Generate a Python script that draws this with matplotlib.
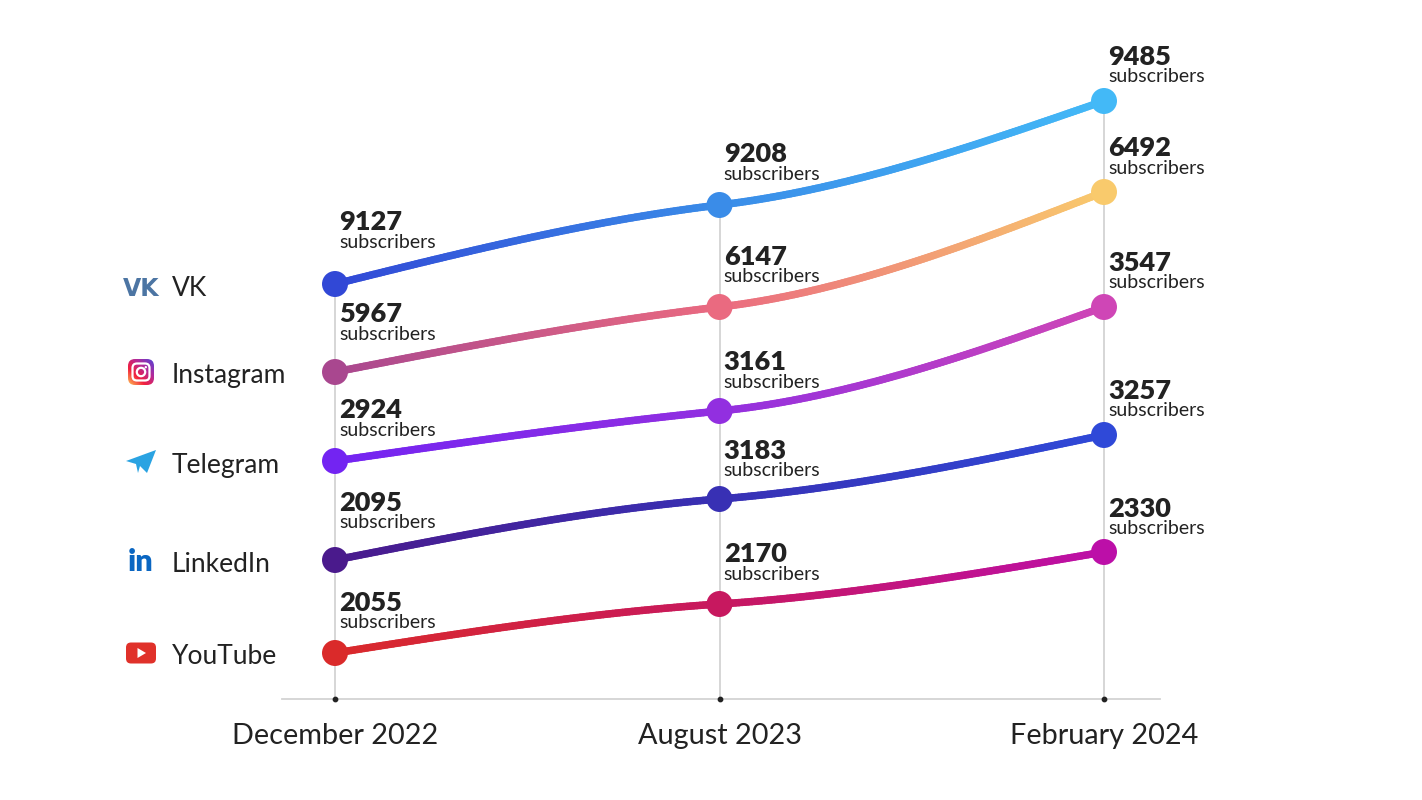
import matplotlib

matplotlib.use("Agg")

import matplotlib.pyplot as plt
import numpy as np
from matplotlib.collections import LineCollection
from matplotlib.colors import to_rgb, LinearSegmentedColormap
from matplotlib.patches import FancyBboxPatch, Circle, Polygon

plt.rcParams["font.family"] = ["Lato", "DejaVu Sans"]

# ---------------------------------------------------------------------------
# Data
# ---------------------------------------------------------------------------
periods = ["December 2022", "August 2023", "February 2024"]
networks = ["VK", "Instagram", "Telegram", "LinkedIn", "YouTube"]

vk_subs = [9127, 9208, 9485]
instagram_subs = [5967, 6147, 6492]
telegram_subs = [2924, 3161, 3547]
linkedin_subs = [2095, 3183, 3257]
youtube_subs = [2055, 2170, 2330]

# vertical placement of each series as drawn in the infographic (not to scale)
vk_level = [415, 494, 598]
instagram_level = [327, 392, 507]
telegram_level = [238, 288, 392]
linkedin_level = [139, 200, 264]
youtube_level = [46, 95, 147]

subs = [vk_subs, instagram_subs, telegram_subs, linkedin_subs, youtube_subs]
levels = [vk_level, instagram_level, telegram_level, linkedin_level, youtube_level]

# gradient colours at each period
colors = [
    ["#3148D6", "#3A8CE8", "#43B9F7"],
    ["#A9478F", "#EA6A80", "#F9CA6C"],
    ["#7324F2", "#922FE0", "#CF46B6"],
    ["#4A1A8C", "#3830B4", "#2F49D8"],
    ["#DA2A2A", "#C7185F", "#BC0FA8"],
]

# how far above each dot the "subscribers" line sits (px)
label_off = [
    [42, 31, 24],
    [38, 30, 24],
    [31, 29, 24],
    [37, 28, 24],
    [30, 30, 23],
]

TEXT = "#222222"
GRID = "#D3D3D3"
W, H = 1422, 800
PT = 100 / 72


def hermite_curve(xs, ys, n=120):
    xs = np.asarray(xs, float)
    ys = np.asarray(ys, float)
    s = np.diff(ys) / np.diff(xs)
    m = np.zeros_like(ys)
    m[1:-1] = 0.25 * (s[:-1] + s[1:])
    m[0] = 1.5 * s[0] - 0.5 * m[1]
    m[-1] = 1.5 * s[-1] - 0.5 * m[-2]
    px, py = [], []
    for i in range(len(xs) - 1):
        h = xs[i + 1] - xs[i]
        t = np.linspace(0, 1, n)
        h00 = 2 * t**3 - 3 * t**2 + 1
        h10 = t**3 - 2 * t**2 + t
        h01 = -2 * t**3 + 3 * t**2
        h11 = t**3 - t**2
        px.append(xs[i] + t * h)
        py.append(h00 * ys[i] + h10 * h * m[i] + h01 * ys[i + 1] + h11 * h * m[i + 1])
    return np.concatenate(px), np.concatenate(py)


fig = plt.figure(figsize=(W / 100, H / 100), dpi=100)
fig.patch.set_facecolor("white")

x0_px, x2_px, base_px = 335, 1104, 699
unit = (x2_px - x0_px) / 2
xl = (-(x0_px - 282) / unit, 2 + (1160 - x2_px) / unit)
ax = fig.add_axes([282 / W, (H - base_px) / H, 878 / W, base_px / H])
ax.set_xlim(*xl)
ax.set_ylim(0, base_px)
ax.axis("off")

x = np.arange(len(periods))

# baseline and vertical guides
ax.plot(xl, [0, 0], color=GRID, lw=1.3, zorder=1, clip_on=False)
col_top = np.max(levels, axis=0)
for xi, top in zip(x, col_top):
    ax.plot([xi, xi], [0, top], color=GRID, lw=1.3, zorder=1)
ax.scatter(x, np.zeros_like(x), s=10, color="#222222", zorder=2, clip_on=False)

for j, p in enumerate(periods):
    ax.text(x[j], -37, p, ha="center", va="center", fontsize=20.8, color=TEXT)

# series
for vals, lev, cols, offs in zip(subs, levels, colors, label_off):
    cx, cy = hermite_curve(x, lev)
    rgb = np.array([to_rgb(c) for c in cols])
    seg_col = np.column_stack([np.interp(cx, x, rgb[:, k]) for k in range(3)])
    pts = np.column_stack([cx, cy]).reshape(-1, 1, 2)
    segs = np.concatenate([pts[:-1], pts[1:]], axis=1)
    lc = LineCollection(segs, colors=seg_col[:-1], linewidths=5.4, capstyle="round", zorder=3)
    ax.add_collection(lc)
    ax.scatter(x, lev, s=350, color=cols, zorder=4, linewidths=0)
    for j in range(len(x)):
        ax.annotate("subscribers", (x[j], lev[j]), xytext=(3, offs[j] / PT),
                    textcoords="offset points", ha="left", va="center",
                    fontsize=14, color=TEXT)
        ax.annotate(f"{vals[j]}", (x[j], lev[j]), xytext=(3, (offs[j] + 20) / PT),
                    textcoords="offset points", ha="left", va="center",
                    fontsize=19.5, fontweight="heavy", color=TEXT)

# ---------------------------------------------------------------------------
# Left legend with icons (overlay axes in pixel units)
# ---------------------------------------------------------------------------
ov = fig.add_axes([0, 0, 1, 1], zorder=5)
ov.axis("off")
ov.patch.set_alpha(0)

icon_x = 141
row_y = [ax.transData.transform((0, lev[0]))[1] - 4 for lev in levels]

for name, y in zip(networks, row_y):
    ov.text(172, y, name, ha="left", va="center", fontsize=19, color=TEXT)

# VK
y = row_y[0] - 1
ov.text(icon_x, y, "VK", ha="center", va="center", fontsize=17, fontweight="heavy",
        family="DejaVu Sans", color="#4C75A3")

# Instagram
y = row_y[1] + 4
box = FancyBboxPatch((icon_x - 13, y - 13), 26, 26, boxstyle="round,pad=0,rounding_size=7",
                     facecolor="none", edgecolor="none")
ov.add_patch(box)
gy, gx = np.mgrid[0:1:64j, 0:1:64j]
g = (gx + gy) / 2
insta = LinearSegmentedColormap.from_list("insta", ["#FEC053", "#F2203E", "#B12A9C", "#5342D6"])
im = ov.imshow(g, cmap=insta, extent=(icon_x - 13, icon_x + 13, y - 13, y + 13),
               origin="lower", interpolation="bilinear", zorder=6)
im.set_clip_path(box)
ov.add_patch(FancyBboxPatch((icon_x - 8.5, y - 8.5), 17, 17, boxstyle="round,pad=0,rounding_size=4.5",
                            facecolor="none", edgecolor="white", lw=1.6, zorder=7))
ov.add_patch(Circle((icon_x, y), 4.2, facecolor="none", edgecolor="white", lw=1.6, zorder=7))
ov.add_patch(Circle((icon_x + 4.8, y + 4.8), 1.2, facecolor="white", edgecolor="none", zorder=7))

# Telegram
y = row_y[2] + 4
plane = [(-15, 0), (15, 11), (6, -12), (-1, -5), (-3, -12), (-5, -3)]
ov.add_patch(Polygon([(icon_x + a, y + b) for a, b in plane], closed=True,
                     facecolor="#2AA3E2", edgecolor="none", zorder=6))

# LinkedIn
y = row_y[3] + 2
ov.text(icon_x, y, "in", ha="center", va="center", fontsize=22, fontweight="heavy",
        color="#0A66C2")

# YouTube
y = row_y[4] + 4
ov.add_patch(FancyBboxPatch((icon_x - 15, y - 10.5), 30, 21, boxstyle="round,pad=0,rounding_size=5",
                            facecolor="#E0312A", edgecolor="none", zorder=6))
ov.add_patch(Polygon([(icon_x - 3.5, y - 5), (icon_x - 3.5, y + 5), (icon_x + 5, y)],
                     closed=True, facecolor="white", edgecolor="none", zorder=7))

ov.set_xlim(0, W)
ov.set_ylim(0, H)
ov.set_aspect("auto")

fig.savefig("out.png", dpi=100, facecolor="white")
